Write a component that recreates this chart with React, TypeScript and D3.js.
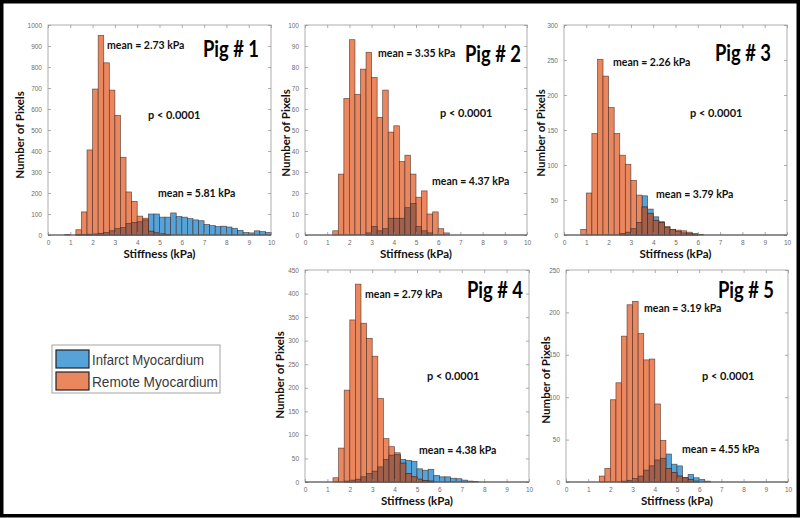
import * as d3 from 'd3';
import React, { useEffect, useRef } from 'react';

// histogram bins are 0.25 kPa wide; each series = first bin edge + counts
const binWidth = 0.25;
const xTicks = [0, 1, 2, 3, 4, 5, 6, 7, 8, 9, 10];

const pig1RemoteStart = 1.25;
const pig1Remote = [25, 110, 405, 695, 950, 820, 690, 570, 370, 205, 160, 90, 80, 18, 10, 5, 3];
const pig1InfarctStart = 0.75;
const pig1Infarct = [2, 0, 2, 3, 4, 5, 8, 12, 20, 30, 35, 55, 60, 63, 72, 100, 100, 85, 85, 105, 88, 85, 78, 72, 68, 50, 45, 40, 42, 38, 32, 22, 12, 10, 20, 16, 12];

const pig2RemoteStart = 1.25;
const pig2Remote = [2, 29, 65, 93, 67, 79, 87, 75, 56, 69, 49, 52, 35, 38, 29, 18, 21, 10, 11, 3, 1];
const pig2InfarctStart = 2.75;
const pig2Infarct = [1, 4, 2, 3, 8, 8, 8, 13, 15, 4, 2, 1];

const pig3RemoteStart = 0.75;
const pig3Remote = [8, 60, 145, 251, 227, 182, 145, 114, 101, 78, 57, 40, 31, 21, 18, 12, 8, 7, 6, 4, 2, 1];
const pig3InfarctStart = 2.5;
const pig3Infarct = [2, 4, 9, 18, 56, 37, 26, 19, 11, 8, 5, 3, 2, 1];

const pig4RemoteStart = 1.25;
const pig4Remote = [9, 72, 195, 344, 420, 337, 305, 267, 177, 92, 75, 62, 40, 18, 11, 6, 3, 2];
const pig4InfarctStart = 1.75;
const pig4Infarct = [2, 4, 6, 11, 18, 23, 32, 48, 57, 58, 48, 46, 44, 28, 25, 27, 14, 11, 11, 8, 7, 4, 2, 1];

const pig5RemoteStart = 1.5;
const pig5Remote = [7, 16, 97, 117, 172, 209, 213, 175, 144, 145, 92, 49, 16, 11, 7, 5, 3, 1];
const pig5InfarctStart = 2.5;
const pig5Infarct = [1, 2, 4, 7, 14, 19, 26, 28, 33, 21, 19, 5, 9, 5, 3, 1];

const pigLabels = ['Pig # 1', 'Pig # 2', 'Pig # 3', 'Pig # 4', 'Pig # 5'];
const remoteMeans = ['mean = 2.73 kPa', 'mean = 3.35 kPa', 'mean = 2.26 kPa', 'mean = 2.79 kPa', 'mean = 3.19 kPa'];
const infarctMeans = ['mean = 5.81 kPa', 'mean = 4.37 kPa', 'mean = 3.79 kPa', 'mean = 4.38 kPa', 'mean = 4.55 kPa'];
const yMaxes = [1000, 100, 300, 450, 250];
const ySteps = [100, 10, 50, 50, 50];
const legendLabels = ['Infarct Myocardium', 'Remote Myocardium'];

const BLUE = '#55a3d9';
const ORANGE = '#eb875f';
const BROWN = '#a0604c';
const EDGE = '#3b2620';
const BOLD = 'Lato, "Open Sans", sans-serif';
const SANS = '"Liberation Sans", Arial, sans-serif';

// layout of each panel (plot box + annotation anchors)
const layout = [
  { left: 48, right: 271, top: 25, bottom: 235, rm: [107, 49], pig: [203, 57], p: [148, 119], im: [158, 197], yl: [19, 135] },
  { left: 305, right: 527, top: 25, bottom: 235, rm: [378, 57], pig: [465, 62], p: [440, 117], im: [432, 185], yl: [285, 133] },
  { left: 564, right: 787, top: 25, bottom: 235, rm: [613, 66], pig: [715, 61], p: [690, 117], im: [656, 198], yl: [540, 133] },
  { left: 305, right: 529, top: 270, bottom: 482, rm: [365, 298], pig: [467, 298], p: [427, 380], im: [419, 454], yl: [279, 375] },
  { left: 566, right: 788, top: 270, bottom: 482, rm: [644, 312], pig: [718, 298], p: [702, 380], im: [682, 453], yl: [545, 380] },
];

const series = [
  [pig1RemoteStart, pig1Remote, pig1InfarctStart, pig1Infarct],
  [pig2RemoteStart, pig2Remote, pig2InfarctStart, pig2Infarct],
  [pig3RemoteStart, pig3Remote, pig3InfarctStart, pig3Infarct],
  [pig4RemoteStart, pig4Remote, pig4InfarctStart, pig4Infarct],
  [pig5RemoteStart, pig5Remote, pig5InfarctStart, pig5Infarct],
];

const toBins = (start: number, counts: number[]) => counts.map((c, i) => ({ x0: start + i * binWidth, c }));

const drawPanel = (svg: any, idx: number) => {
  const L = layout[idx];
  const [rs, rc, is, ic] = series[idx] as [number, number[], number, number[]];
  const x = d3.scaleLinear().domain([0, 10]).range([L.left, L.right]);
  const y = d3.scaleLinear().domain([0, yMaxes[idx]]).range([L.bottom, L.top]);

  const remote = toBins(rs, rc);
  const infarct = toBins(is, ic);
  const overlap = remote
    .map((r) => {
      const m = infarct.find((b) => Math.abs(b.x0 - r.x0) < 1e-6);
      return m ? { x0: r.x0, c: Math.min(r.c, m.c) } : null;
    })
    .filter((d) => d && d.c > 0) as { x0: number; c: number }[];

  const g = svg.append('g');
  g.append('rect').attr('x', L.left).attr('y', L.top).attr('width', L.right - L.left).attr('height', L.bottom - L.top).attr('fill', '#fff');

  const bars = (data, fill) => {
    g.append('g')
      .selectAll('rect')
      .data(data.filter((d) => d.c > 0))
      .enter()
      .append('rect')
      .attr('x', (d) => x(d.x0))
      .attr('y', (d) => y(d.c))
      .attr('width', (d) => x(d.x0 + binWidth) - x(d.x0))
      .attr('height', (d) => y(0) - y(d.c))
      .attr('fill', fill)
      .attr('stroke', EDGE)
      .attr('stroke-opacity', 0.75)
      .attr('stroke-width', 0.7);
  };
  bars(infarct, BLUE);
  bars(remote, ORANGE);
  bars(overlap, BROWN);

  const yTicks = d3.range(0, yMaxes[idx] + 1, ySteps[idx]);

  const styleAxis = (a, showText) => {
    a.select('.domain').remove();
    a.selectAll('.tick line').attr('stroke', '#8a8a8a').attr('stroke-width', 0.7);
    a.selectAll('.tick text')
      .attr('fill', '#6d6d6d')
      .style('font-family', SANS)
      .style('font-size', '6.5px');
    if (!showText) a.selectAll('.tick text').remove();
  };

  styleAxis(g.append('g').attr('transform', `translate(0,${L.bottom})`).call(d3.axisBottom(x).tickValues(xTicks).tickFormat(d3.format('d')).tickSizeInner(-3).tickSizeOuter(0).tickPadding(5)), true);
  styleAxis(g.append('g').attr('transform', `translate(0,${L.top})`).call(d3.axisTop(x).tickValues(xTicks).tickSizeInner(-3).tickSizeOuter(0)), false);
  styleAxis(g.append('g').attr('transform', `translate(${L.left},0)`).call(d3.axisLeft(y).tickValues(yTicks).tickFormat(d3.format('d')).tickSizeInner(-3).tickSizeOuter(0).tickPadding(6)), true);
  styleAxis(g.append('g').attr('transform', `translate(${L.right},0)`).call(d3.axisRight(y).tickValues(yTicks).tickSizeInner(-3).tickSizeOuter(0)), false);

  g.append('rect')
    .attr('x', L.left)
    .attr('y', L.top)
    .attr('width', L.right - L.left)
    .attr('height', L.bottom - L.top)
    .attr('fill', 'none')
    .attr('stroke', '#9a9a9a')
    .attr('stroke-width', 0.8);
  g.append('line').attr('x1', L.left).attr('x2', L.right).attr('y1', L.bottom).attr('y2', L.bottom).attr('stroke', '#4a4a4a').attr('stroke-width', 1);

  const txt = (pos, s, size, weight = 700) =>
    g.append('text').attr('x', pos[0]).attr('y', pos[1]).text(s).style('font-family', BOLD).style('font-size', `${size}px`).style('font-weight', weight).attr('fill', '#111');

  txt(L.rm, remoteMeans[idx], 10.5);
  txt(L.im, infarctMeans[idx], 10.5);
  txt(L.p, 'p < 0.0001', 11);
  // Calibri-like heading is narrower than Lato, so fit it to the measured width
  txt(L.pig, pigLabels[idx], 22.5, 700).attr('textLength', 56).attr('lengthAdjust', 'spacingAndGlyphs').attr('fill', '#000');

  g.append('text')
    .attr('transform', `translate(${L.yl[0]},${L.yl[1]}) rotate(-90)`)
    .attr('text-anchor', 'middle')
    .attr('dominant-baseline', 'central')
    .text('Number of Pixels')
    .style('font-family', BOLD)
    .style('font-size', '11.5px')
    .style('font-weight', 700)
    .attr('fill', '#111');

  g.append('text')
    .attr('x', (L.left + L.right) / 2)
    .attr('y', L.bottom + 23)
    .attr('text-anchor', 'middle')
    .text('Stiffness (kPa)')
    .style('font-family', BOLD)
    .style('font-size', '11.5px')
    .style('font-weight', 700)
    .attr('fill', '#111');
};

const App = () => {
  const ref = useRef<SVGSVGElement | null>(null);

  useEffect(() => {
    if (!ref.current) return;
    const svg = d3.select(ref.current);
    svg.selectAll('*').remove();

    svg.append('rect').attr('width', 800).attr('height', 518).attr('fill', '#fff');

    [0, 1, 2, 3, 4].forEach((i) => drawPanel(svg, i));

    // legend
    const lg = svg.append('g');
    lg.append('rect').attr('x', 52).attr('y', 345).attr('width', 168).attr('height', 48).attr('fill', '#fff').attr('stroke', '#9a9a9a').attr('stroke-width', 0.9);
    [BLUE, ORANGE].forEach((c, i) => {
      lg.append('rect')
        .attr('x', 56)
        .attr('y', 350 + i * 22)
        .attr('width', 33)
        .attr('height', 18)
        .attr('fill', c)
        .attr('stroke', '#222')
        .attr('stroke-width', 1.2);
      lg.append('text')
        .attr('x', 92)
        .attr('y', 365 + i * 22)
        .text(legendLabels[i])
        .attr('textLength', i === 0 ? 112 : 126)
        .attr('lengthAdjust', 'spacingAndGlyphs')
        .style('font-family', SANS)
        .style('font-size', '15.5px')
        .attr('fill', '#3a3a3a');
    });

    // outer frame
    svg.append('rect').attr('x', 1.75).attr('y', 1.75).attr('width', 796.5).attr('height', 514).attr('fill', 'none').attr('stroke', '#000').attr('stroke-width', 3.5);
  }, []);

  return <svg ref={ref} width={800} height={518} style={{ position: 'absolute', left: 0, top: 0, display: 'block' }} />;
};

export default App;
